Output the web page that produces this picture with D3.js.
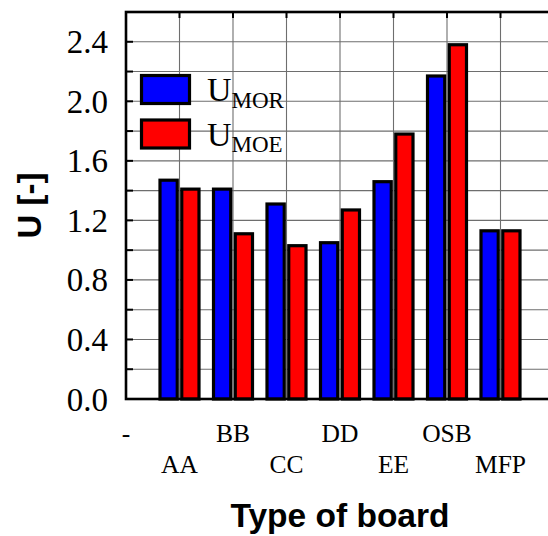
<!DOCTYPE html>
<html>
<head>
<meta charset="utf-8">
<script src="https://cdn.jsdelivr.net/npm/d3@7"></script>
<style>
  html, body { margin: 0; padding: 0; background: #fff; }
  svg { display: block; }
</style>
</head>
<body>
<svg id="chart" width="548" height="536"></svg>
<script>
// Board types along the x axis ("-" marks the empty origin slot)
const categories = ["-", "AA", "BB", "CC", "DD", "EE", "OSB", "MFP"];
const boards = ["AA", "BB", "CC", "DD", "EE", "OSB", "MFP"];
const uMOR = [1.47, 1.41, 1.31, 1.05, 1.46, 2.17, 1.13];
const uMOE = [1.41, 1.11, 1.03, 1.27, 1.78, 2.38, 1.13];
const seriesKeys = ["MOR", "MOE"];
const seriesColors = ["#0000ff", "#ff0000"];
const yTicks = [0.0, 0.4, 0.8, 1.2, 1.6, 2.0, 2.4];

const svg = d3.select("#chart");
const plotL = 126, plotT = 12, plotB = 399, plotR = 554;

const x = d3.scalePoint().domain(categories).range([plotL, plotL + 53.5 * 7]);
const y = d3.scaleLinear().domain([0, 2.6]).range([plotB, plotT]);
const sub = d3.scaleBand().domain(seriesKeys).range([-21, 21]).paddingInner(0.07);
const color = d3.scaleOrdinal().domain(seriesKeys).range(seriesColors);

// Grid
const gridG = svg.append("g");
const minor = d3.range(0.2, 2.6, 0.2).map(v => +v.toFixed(1));
gridG.selectAll("line.h").data(minor).join("line")
  .attr("x1", plotL).attr("x2", plotR)
  .attr("y1", d => y(d)).attr("y2", d => y(d))
  .attr("stroke", "#6e6e6e").attr("stroke-width", 1.1);
gridG.selectAll("line.v").data(categories.slice(1)).join("line")
  .attr("x1", d => x(d)).attr("x2", d => x(d))
  .attr("y1", plotT).attr("y2", plotB)
  .attr("stroke", "#6e6e6e").attr("stroke-width", 1.1);

// Inner ticks on the left and top axes
svg.append("g").selectAll("line").data(minor).join("line")
  .attr("x1", plotL).attr("x2", plotL + 7)
  .attr("y1", d => y(d)).attr("y2", d => y(d))
  .attr("stroke", "#000").attr("stroke-width", 2);
svg.append("g").selectAll("line").data(categories.slice(1)).join("line")
  .attr("x1", d => x(d)).attr("x2", d => x(d))
  .attr("y1", plotT).attr("y2", plotT + 6)
  .attr("stroke", "#000").attr("stroke-width", 2);

// Bars
const rows = boards.map((b, i) => ({ board: b, MOR: uMOR[i], MOE: uMOE[i] }));
const groups = svg.append("g").selectAll("g").data(rows).join("g")
  .attr("transform", d => `translate(${x(d.board)},0)`);
groups.selectAll("rect").data(d => seriesKeys.map(k => ({ key: k, value: d[k] }))).join("rect")
  .attr("x", d => sub(d.key) + 1.5)
  .attr("width", sub.bandwidth() - 3)
  .attr("y", d => y(d.value))
  .attr("height", d => y(0) - y(d.value))
  .attr("fill", d => color(d.key))
  .attr("stroke", "#000").attr("stroke-width", 3.2);

// Frame
svg.append("rect")
  .attr("x", plotL).attr("y", plotT)
  .attr("width", plotR - plotL).attr("height", plotB - plotT)
  .attr("fill", "none").attr("stroke", "#000").attr("stroke-width", 2.6);

// Y tick labels
svg.append("g").selectAll("text").data(yTicks).join("text")
  .attr("x", 108).attr("y", d => y(d) + 11.5)
  .attr("text-anchor", "end")
  .attr("font-family", "'Liberation Serif', 'Times New Roman', serif")
  .attr("font-size", 33)
  .text(d => d.toFixed(1));

// Category labels, staggered in two rows
svg.append("g").selectAll("text").data(categories).join("text")
  .attr("x", d => x(d))
  .attr("y", (d, i) => i % 2 === 0 ? 441.5 : 473.3)
  .attr("text-anchor", "middle")
  .attr("font-family", "'Liberation Serif', 'Times New Roman', serif")
  .attr("font-size", 25.5)
  .text(d => d);

// Legend
const legend = svg.append("g");
seriesKeys.forEach((k, i) => {
  const yy = 75.5 + i * 44.5;
  legend.append("rect")
    .attr("x", 141.5).attr("y", yy).attr("width", 48).attr("height", 28)
    .attr("fill", color(k)).attr("stroke", "#000").attr("stroke-width", 3.2);
  const t = legend.append("text")
    .attr("x", 207).attr("y", yy + 25.5)
    .attr("font-family", "'Liberation Serif', 'Times New Roman', serif")
    .attr("font-size", 34);
  t.append("tspan").text("U");
  t.append("tspan").attr("dy", 6.5).attr("font-size", 23).text(k);
});

// Axis titles
svg.append("text")
  .attr("transform", `translate(40.5,${(plotT + plotB) / 2}) rotate(-90)`)
  .attr("text-anchor", "middle")
  .attr("font-family", "'Liberation Sans', Arial, sans-serif")
  .attr("font-weight", "bold").attr("font-size", 33)
  .text("U [-]");
svg.append("text")
  .attr("x", (plotL + plotR) / 2).attr("y", 527)
  .attr("text-anchor", "middle")
  .attr("font-family", "'Liberation Sans', Arial, sans-serif")
  .attr("font-weight", "bold").attr("font-size", 33.5)
  .text("Type of board");
</script>
</body>
</html>
